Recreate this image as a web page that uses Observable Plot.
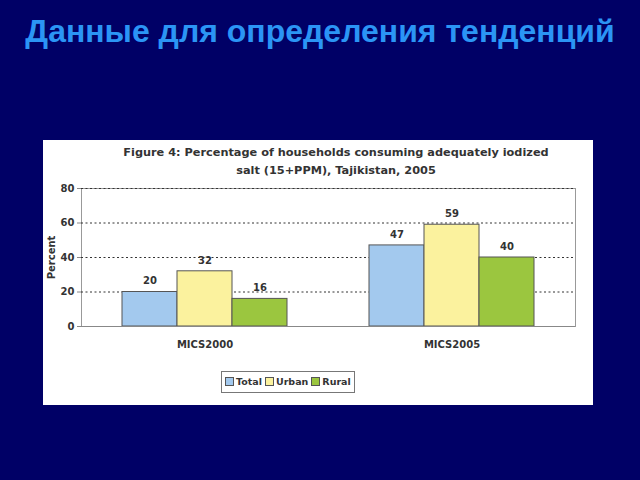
<!DOCTYPE html>
<html><head><meta charset="utf-8">
<script src="https://cdn.jsdelivr.net/npm/d3@7"></script>
<script src="https://cdn.jsdelivr.net/npm/@observablehq/plot@0.6"></script>
<style>
html,body{margin:0;padding:0;}
body{width:640px;height:480px;background:#000066;position:relative;overflow:hidden;font-family:"Liberation Sans",Arial,sans-serif;}
#title{position:absolute;left:0;top:12px;width:640px;text-align:center;color:#2b95f5;font-weight:bold;font-size:32px;line-height:38px;white-space:nowrap;}
#panel{position:absolute;left:43px;top:140px;width:550px;height:265px;background:#fff;}
#ftitle{position:absolute;left:36px;width:514px;top:4px;text-align:center;font-family:"DejaVu Sans",sans-serif;font-weight:bold;font-size:11.3px;line-height:18px;color:#333;white-space:nowrap;}
#chart{position:absolute;left:0;top:40px;}
#legend{position:absolute;top:231px;left:178px;border:1px solid #777;padding:5px 3px;font-family:"DejaVu Sans",sans-serif;font-weight:bold;font-size:9.5px;line-height:10px;color:#333;display:flex;gap:3px;align-items:center;background:#fff;}
#legend span.sw{display:inline-block;width:7px;height:7px;border:1px solid #555;margin-right:2px;vertical-align:-1px;}
</style>
</head><body>
<div id="title">Данные для определения тенденций</div>
<div id="panel">
  <div id="ftitle">Figure 4: Percentage of households consuming adequately iodized<br>salt (15+PPM), Tajikistan, 2005</div>
  <div id="chart"></div>
  <div id="legend"></div>
</div>
<script>
const groups = ["MICS2000", "MICS2005"];
const series = ["Total", "Urban", "Rural"];
const totalValues = [20, 47];
const urbanValues = [32, 59];
const ruralValues = [16, 40];
const colors = ["#a3c9ee", "#fbf29e", "#9bc63f"];
const yTicks = [0, 20, 40, 60, 80];
const gridTicks = [20, 40, 60, 80];

const seriesValues = [totalValues, urbanValues, ruralValues];
const rows = [];
groups.forEach((g, gi) => series.forEach((s, si) => rows.push({group: g, series: s, value: seriesValues[si][gi]})));

const chart = Plot.plot({
  width: 550, height: 180,
  marginLeft: 38, marginRight: 18, marginTop: 8, marginBottom: 34,
  style: {fontFamily: "DejaVu Sans, sans-serif", fontSize: "10px", color: "#333", background: "transparent"},
  fx: {domain: groups, padding: 0, label: null, axis: null},
  x: {domain: series, axis: null, paddingInner: 0, paddingOuter: 0.745},
  y: {domain: [0, 80], axis: null},
  color: {domain: series, range: colors},
  marks: [
    Plot.frame({facet: "super", stroke: "#999"}),
    Plot.ruleY(gridTicks, {stroke: "#333", strokeDasharray: "2,2.5"}),
    Plot.barY(rows, {fx: "group", x: "series", y: "value", fill: "series", stroke: "#555", strokeWidth: 1}),
    Plot.text(rows, {fx: "group", x: "series", y: "value", text: d => String(d.value), dy: -11, fontWeight: "bold", fill: "#333"}),
    Plot.ruleY([0], {stroke: "#888"}),
    Plot.axisY({ticks: yTicks, tickSize: 4, tickPadding: 3, label: "Percent", labelArrow: false, labelAnchor: "center", labelOffset: 34, fontWeight: "bold", stroke: "#888"}),
    Plot.axisFx({domain: groups, tickSize: 0, tickPadding: 14, label: null, fontWeight: "bold", anchor: "bottom"})
  ]
});
document.getElementById("chart").appendChild(chart);

const legend = document.getElementById("legend");
series.forEach((s, i) => {
  const item = document.createElement("span");
  item.innerHTML = `<span class="sw" style="background:${colors[i]}"></span>${s}`;
  legend.appendChild(item);
});
</script>
</body></html>
